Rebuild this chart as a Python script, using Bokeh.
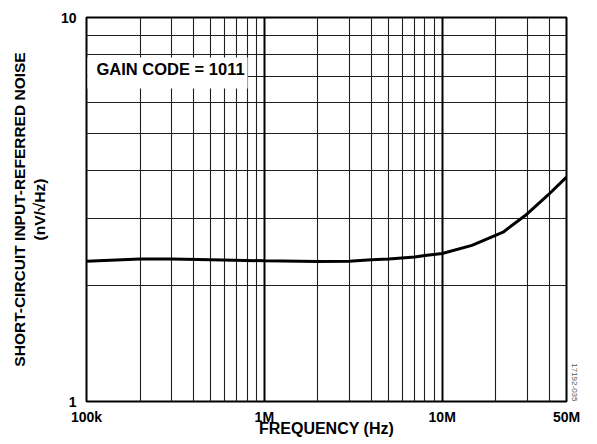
import math
from bokeh.plotting import figure
from bokeh.models import Range1d, FixedTicker, Grid, Label, Title
from bokeh.embed import file_html
from bokeh.resources import INLINE

# ---- data ----
freq_hz = [100e3, 200e3, 300e3, 500e3, 1e6, 2e6, 3e6, 4e6, 5e6, 7e6, 8e6,
           10e6, 14.7e6, 22e6, 29.3e6, 39.4e6, 50e6]
noise_nv = [2.32, 2.35, 2.35, 2.34, 2.325, 2.315, 2.32, 2.34, 2.35, 2.38, 2.40,
            2.43, 2.55, 2.76, 3.05, 3.45, 3.84]

x_ticks = [1e5, 1e6, 1e7, 5e7]
x_tick_labels = ["100k", "1M", "10M", "50M"]
y_ticks = [1, 10]
y_tick_labels = ["1", "10"]
x_grid_minor = [2e5, 3e5, 4e5, 5e5, 6e5, 7e5, 8e5, 9e5,
                2e6, 3e6, 4e6, 5e6, 6e6, 7e6, 8e6, 9e6,
                2e7, 3e7, 4e7]
x_grid_decade = [1e6, 1e7]
y_grid = [2, 3, 4, 5, 6, 7, 8, 9]

FONT = "Liberation Sans"

p = figure(width=597, height=440,
           x_axis_type="log", y_axis_type="log",
           x_range=Range1d(1e5, 5e7), y_range=Range1d(1, 10),
           output_backend="svg", toolbar_location=None,
           min_border_left=86, min_border_right=31,
           min_border_top=17, min_border_bottom=39)

p.background_fill_color = "white"
p.border_fill_color = "white"
p.outline_line_color = "black"
p.outline_line_width = 2

# grids
p.xgrid.ticker = FixedTicker(ticks=x_grid_minor)
p.ygrid.ticker = FixedTicker(ticks=y_grid)
for g in (p.xgrid, p.ygrid):
    g.grid_line_color = "#1e1e1e"
    g.grid_line_width = 1.1
    g.grid_line_alpha = 1.0
p.add_layout(Grid(dimension=0, ticker=FixedTicker(ticks=x_grid_decade),
                  grid_line_color="black", grid_line_width=2))

# axes
p.xaxis.ticker = FixedTicker(ticks=x_ticks)
p.xaxis.major_label_overrides = {t: l for t, l in zip(x_ticks, x_tick_labels)}
p.yaxis.ticker = FixedTicker(ticks=y_ticks)
p.yaxis.major_label_overrides = {t: l for t, l in zip(y_ticks, y_tick_labels)}
for ax in (p.xaxis, p.yaxis):
    ax.axis_line_color = None
    ax.major_tick_line_color = None
    ax.minor_tick_line_color = None
    ax.major_tick_out = 0
    ax.major_tick_in = 0
    ax.minor_tick_out = 0
    ax.minor_tick_in = 0
    ax.major_label_text_font = FONT
    ax.major_label_text_font_style = "bold"
    ax.major_label_text_font_size = "14px"
    ax.major_label_text_color = "black"
    ax.axis_label_text_font = FONT
    ax.axis_label_text_font_style = "bold"
    ax.axis_label_text_color = "black"

p.xaxis.major_label_standoff = 7
p.xaxis.axis_label = "FREQUENCY (Hz)"
p.xaxis.axis_label_text_font_size = "16px"
p.xaxis.axis_label_standoff = -8

p.yaxis.major_label_standoff = 10
p.yaxis.axis_label = "SHORT-CIRCUIT INPUT-REFERRED NOISE\n(nV/\u221aHz)"
p.yaxis.axis_label_text_font_size = "15.5px"
p.yaxis.axis_label_standoff = 10

# curve
p.line(freq_hz, noise_nv, line_color="black", line_width=3)

# annotation
p.add_layout(Label(x=x_ticks[0], y=7.0, x_offset=1, y_offset=4,
                   text="GAIN CODE = 1011", text_font=FONT,
                   text_font_style="bold", text_font_size="16.5px",
                   text_color="black", text_baseline="alphabetic",
                   background_fill_color="white",
                   padding=(9, 3, 3, 10)))

# figure id at the right edge
p.add_layout(Title(text="17192-035", text_font=FONT, text_font_size="8px",
                   text_font_style="normal", text_color="#555555",
                   align="right", vertical_align="bottom", standoff=10,
                   offset=0), "right")

open("out.html", "w").write(file_html(p, INLINE))
